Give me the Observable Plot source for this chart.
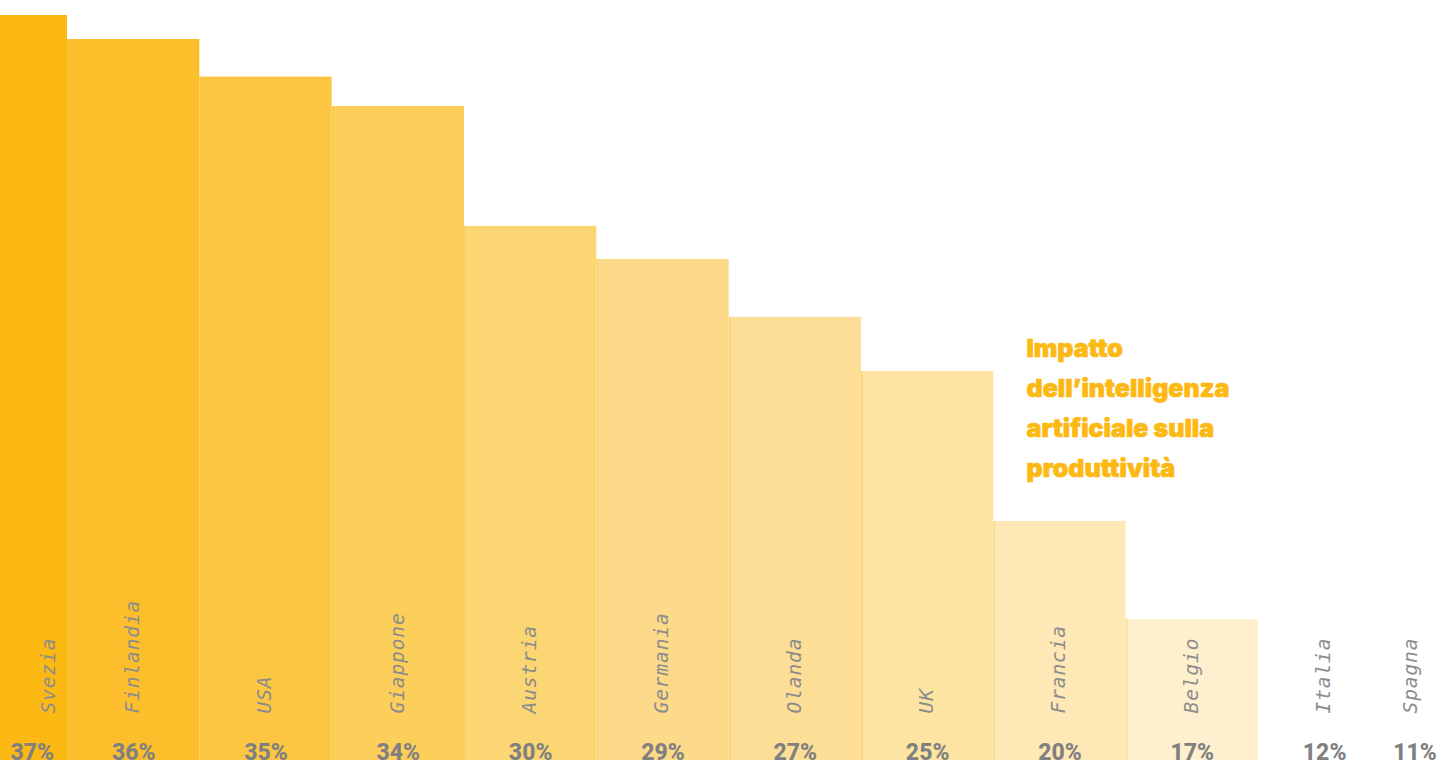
<!DOCTYPE html>
<html>
<head>
<meta charset="utf-8">
<script src="https://cdn.jsdelivr.net/npm/d3@7"></script>
<script src="https://cdn.jsdelivr.net/npm/@observablehq/plot@0.6"></script>
<style>
  html, body { margin: 0; padding: 0; background: #fff; overflow: hidden; }
  #chart svg { display: block; }
  #chart g[font-family="DejaVu Sans Mono"] { letter-spacing: 0.9px; }
</style>
</head>
<body>
<div id="chart"></div>
<script>
// Data
const countries = ["Svezia", "Finlandia", "USA", "Giappone", "Austria", "Germania", "Olanda", "UK", "Francia", "Belgio", "Italia", "Spagna"];
const values = [37, 36.2, 34.95, 33.97, 29.98, 28.88, 26.95, 25.15, 20.16, 16.89, 12, 11];
const labels = ["37%", "36%", "35%", "34%", "30%", "29%", "27%", "25%", "20%", "17%", "12%", "11%"];
const title = "Impatto\ndell’intelligenza\nartificiale sulla\nproduttività";

// Styles
const palette = ["#FDB913", "#FCBF2B", "#FCC642", "#FCCE5A", "#FCD672", "#FDDA89", "#FDDE96", "#FDE4A2", "#FDE8B6", "#FEF0CF", "#FFFFFF", "#FFFFFF"];
const base = 12.2;

const data = countries.map((c, i) => ({country: c, value: values[i], label: labels[i]}));
const bars = data.filter(d => d.value > base);
const first = data.slice(0, 1);
const last = data.slice(-1);
const middle = data.slice(1, -1);

const W = 1436, H = 760;
const bw = 132.33;

const nameStyle = {
  rotate: -90, textAnchor: "start", frameAnchor: "bottom", dy: -47,
  fontFamily: "DejaVu Sans Mono", fontStyle: "italic", fontSize: 19.5,
  fill: "#8c8c8c", lineAnchor: "middle"
};
const pctStyle = {
  frameAnchor: "bottom", lineAnchor: "bottom", dy: -1,
  fontFamily: "Roboto", fontWeight: 800, fontSize: 23, fill: "#808080"
};

const chart = Plot.plot({
  width: W, height: H,
  margin: 0,
  style: {background: "#fff", overflow: "hidden"},
  x: {type: "band", domain: countries, range: [-65.33, -65.33 + bw * 12], padding: 0, round: false, axis: null},
  y: {domain: [base, 37], range: [H, 15], axis: null},
  color: {domain: countries, range: palette},
  marks: [
    Plot.rectY(bars, {x: "country", y1: base, y2: "value", fill: "country", clip: true}),
    Plot.ruleX(bars.slice(1), {x: "country", y1: base, y2: "value", stroke: "#FBC23A", strokeOpacity: 0.55, strokeWidth: 1.2, dx: -bw / 2 + 0.6, clip: true}),
    // country names (rotated)
    Plot.text(middle, {x: "country", text: "country", ...nameStyle, dx: -1}),
    Plot.text(first, {x: "country", text: "country", ...nameStyle, dx: 47}),
    Plot.text(last, {x: "country", text: "country", ...nameStyle, dx: -46}),
    // percentage labels
    Plot.text(middle, {x: "country", text: "label", ...pctStyle}),
    Plot.text(first, {x: "country", text: "label", ...pctStyle, dx: 31}),
    Plot.text(last, {x: "country", text: "label", ...pctStyle, dx: -42}),
    // title
    Plot.text([title], {
      text: d => d, frameAnchor: "top-left", textAnchor: "start", lineAnchor: "top",
      dx: 1026, dy: 328, lineHeight: 1.6,
      fontFamily: "Inter", fontWeight: 900, fontSize: 25, fill: "#FDB913",
      stroke: "#FDB913", strokeWidth: 0.7
    })
  ]
});
document.getElementById("chart").append(chart);
</script>
</body>
</html>
